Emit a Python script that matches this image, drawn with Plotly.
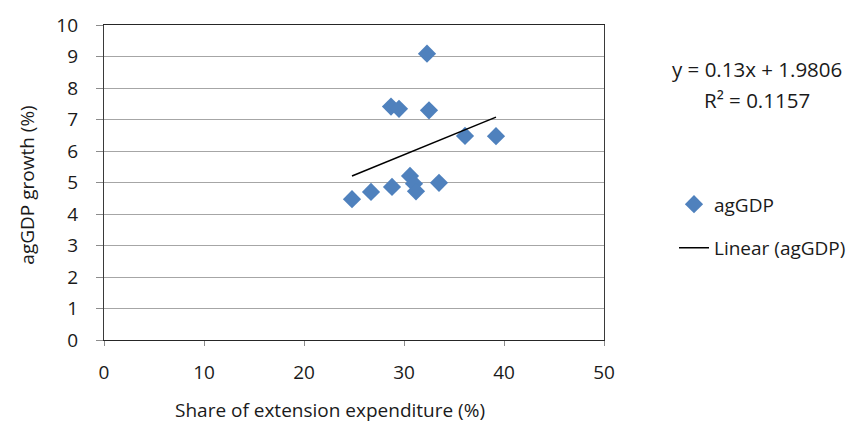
import plotly.graph_objects as go

# Share of extension expenditure (%) and agricultural GDP growth (%)
share = [24.8, 26.7, 28.8, 30.6, 31.0, 31.2, 33.5, 28.7, 29.5, 32.5, 36.1, 39.2, 32.3]
growth = [4.47, 4.70, 4.86, 5.21, 4.96, 4.72, 4.99, 7.41, 7.34, 7.29, 6.48, 6.47, 9.09]

# Linear trend fitted to the series
slope = 0.13
intercept = 1.9806
r_squared = 0.1157

x_ticks = [0, 10, 20, 30, 40, 50]
y_ticks = list(range(0, 11))

x_title = "Share of extension expenditure (%)"
y_title = "agGDP growth (%)"

font_family = "Open Sans, Noto Sans, sans-serif"
text_color = "#1a1a1a"
fs = 19

trend_x = [min(share), max(share)]
trend_y = [slope * v + intercept for v in trend_x]

fig = go.Figure()
fig.add_trace(go.Scatter(
    x=share, y=growth, mode="markers", name="agGDP",
    legendgroup="a",
    marker=dict(symbol="diamond", size=14, color="#4F81BD",
                line=dict(width=0)),
))
fig.add_trace(go.Scatter(
    x=trend_x, y=trend_y, mode="lines", name="Linear (agGDP)",
    legendgroup="b",
    line=dict(color="black", width=1.5),
))

# Trendline equation and R²
fig.add_annotation(
    text=f"y = {slope}x + {intercept}", xref="paper", yref="paper",
    x=1.306, y=0.86, showarrow=False, xanchor="center", yanchor="middle",
    font=dict(size=20.5, color=text_color, family=font_family),
)
fig.add_annotation(
    text=f"R² = {r_squared}", xref="paper", yref="paper",
    x=1.306, y=0.762, showarrow=False, xanchor="center", yanchor="middle",
    font=dict(size=20.5, color=text_color, family=font_family),
)

# Axis titles
fig.add_annotation(
    text=x_title, xref="paper", yref="paper",
    x=0.452, y=-0.222, showarrow=False, xanchor="center", yanchor="middle",
    font=dict(size=fs, color=text_color, family=font_family),
)
fig.add_annotation(
    text=y_title, xref="paper", yref="paper", textangle=-90,
    x=-0.154, y=0.49, showarrow=False, xanchor="center", yanchor="middle",
    font=dict(size=fs, color=text_color, family=font_family),
)

fig.update_layout(
    width=867, height=424,
    margin=dict(l=104, r=263, t=20, b=84),
    paper_bgcolor="white", plot_bgcolor="white",
    font=dict(family=font_family, size=fs, color=text_color),
    showlegend=True,
    legend=dict(
        x=1.14, y=0.361, xanchor="left", yanchor="middle",
        traceorder="grouped", tracegroupgap=16,
        font=dict(size=fs, color=text_color, family=font_family),
        bgcolor="rgba(0,0,0,0)",
    ),
    xaxis=dict(
        range=[0, 50], tickvals=x_ticks, ticks="outside", ticklen=5,
        tickcolor="#8c8c8c", showgrid=False, zeroline=False,
        showline=True, linecolor="#262626", linewidth=1.2, mirror=True,
        ticklabelstandoff=10,
        tickfont=dict(size=fs),
    ),
    yaxis=dict(
        range=[0, 10], tickvals=y_ticks, ticks="outside", ticklen=7,
        tickcolor="#8c8c8c", showgrid=True, gridcolor="#a6a6a6",
        gridwidth=1, zeroline=False,
        showline=True, linecolor="#3a3a3a", linewidth=1.2, mirror=True,
        ticklabelstandoff=14,
        tickfont=dict(size=fs),
    ),
)

fig.write_html("out.html")
